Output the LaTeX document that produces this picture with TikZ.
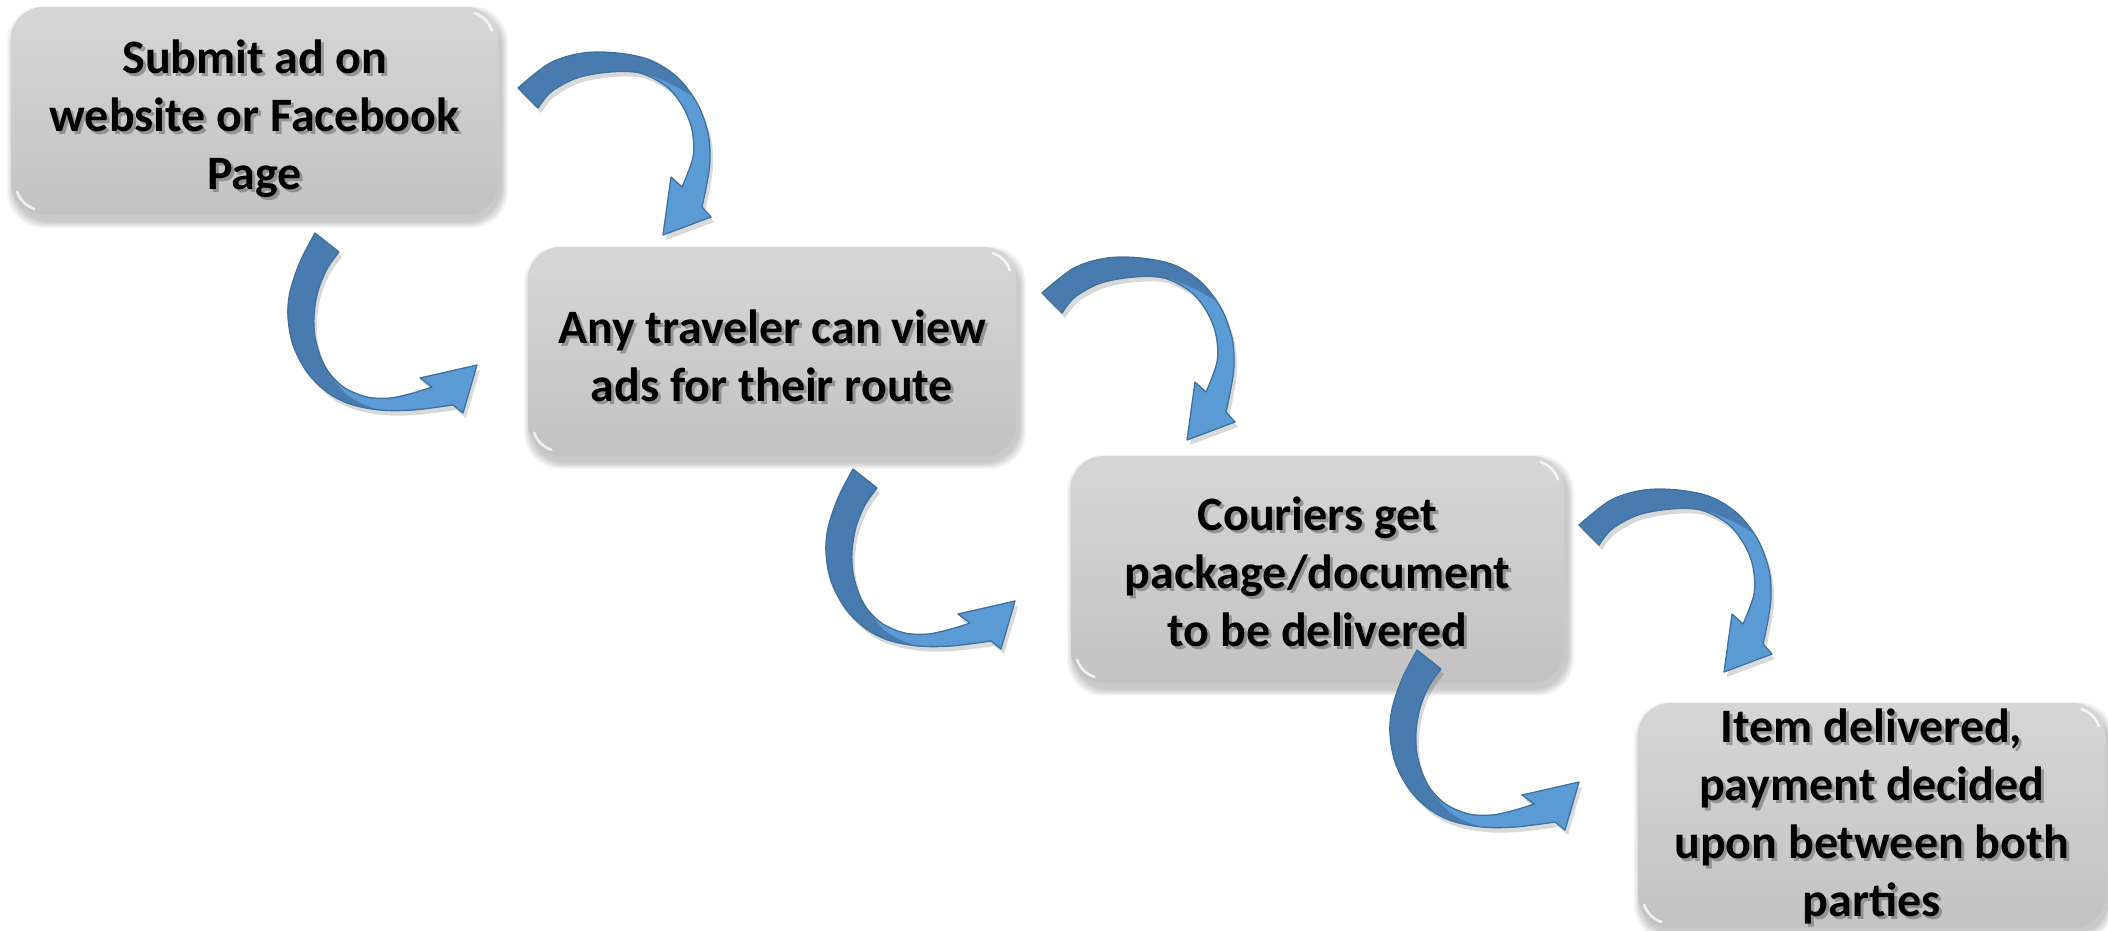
\documentclass[tikz,border=0pt]{standalone}
\usepackage{fontspec}
\setmainfont{Carlito}
\usetikzlibrary{calc}
\definecolor{arrdark}{HTML}{487CB0}
\definecolor{arrlight}{HTML}{5B9BD5}
\definecolor{arredge}{HTML}{41719C}
\definecolor{boxtop}{HTML}{D6D6D6}
\definecolor{boxbot}{HTML}{C3C3C3}
\newcommand\myboxshadow[4]{%
  \foreach \k in {1,...,7}{%
    \fill[black,opacity=0.03,rounded corners=36pt] (#1+3-\k,#2+6-\k) rectangle (#3+3+\k,#4+6+\k);}}
\newcommand\myglints[1]{%
  \draw[glint] ($(#1.north east)+(-32,32)$) ++(-18:27) arc[start angle=-18, end angle=-72, radius=27];
  \draw[glint] ($(#1.south west)+(32,-32)$) ++(-198:27) arc[start angle=-198, end angle=-252, radius=27];}
\tikzset{
  boxnode/.style={rectangle, rounded corners=32pt, top color=boxtop, bottom color=boxbot, draw=none, inner sep=0pt},
  glint/.style={white, opacity=.75, line width=2.5pt, line cap=round},
  lbl/.style={font=\bfseries\fontsize{48}{58}\selectfont, align=center, text=black, inner sep=0pt},
  lblshadow/.style={lbl, text=black!60, opacity=.55},
  botarrow/.pic={
    \fill[black,opacity=.15,shift={(3,5)}] plot[smooth,tension=.55] coordinates {(0,0) (-15,29) (-25,59) (-27,84) (-22,112) (-8,139) (12,159) (35,171) (65,177) (98,177) (138,172)} -- (148,180) -- (162,132) -- (105,145) -- plot[smooth,tension=.55] coordinates {(117,154) (98,160) (75,165) (52,164) (30,155) (15,141) (6,125) (0,104) (-1,82) (3,58) (12,36) (24,19)} -- cycle;
    \fill[arrlight] plot[smooth,tension=.55] coordinates {(0,0) (-15,29) (-25,59) (-27,84) (-22,112) (-8,139) (12,159) (35,171) (65,177) (98,177) (138,172)} -- (148,180) -- (162,132) -- (105,145) -- plot[smooth,tension=.55] coordinates {(117,154) (98,160) (75,165) (52,164) (30,155) (15,141) (6,125) (0,104) (-1,82) (3,58) (12,36) (24,19)} -- cycle;
    \fill[arrdark] plot[smooth,tension=.55] coordinates {(0,0) (-15,29) (-25,59) (-27,84) (-22,112) (-8,139) (12,159) (35,171) (65,177)} -- plot[smooth,tension=.55] coordinates {(65,177) (50,172) (31,161) (15,141)} -- plot[smooth,tension=.55] coordinates {(15,141) (6,125) (0,104) (-1,82) (3,58) (12,36) (24,19)} -- cycle;
    \draw[arredge,line width=1.3pt,line join=round] plot[smooth,tension=.55] coordinates {(0,0) (-15,29) (-25,59) (-27,84) (-22,112) (-8,139) (12,159) (35,171) (65,177) (98,177) (138,172)} -- (148,180) -- (162,132) -- (105,145) -- plot[smooth,tension=.55] coordinates {(117,154) (98,160) (75,165) (52,164) (30,155) (15,141) (6,125) (0,104) (-1,82) (3,58) (12,36) (24,19)} -- cycle;
  },
  toparrow/.pic={
    \fill[black,opacity=.15,shift={(3,5)}] plot[smooth,tension=.55] coordinates {(0,0) (32,-25) (65,-35) (99,-35) (132,-28) (159,-11) (179,15) (190,45) (192,72) (189,95) (184,119)} -- (193,129) -- (145,147) -- (153,89) -- plot[smooth,tension=.55] coordinates {(164,99) (175,69) (174,42) (165,19) (149,-1) (122,-15) (92,-16) (59,-10) (33,4) (20,20)} -- cycle;
    \fill[arrlight] plot[smooth,tension=.55] coordinates {(0,0) (32,-25) (65,-35) (99,-35) (132,-28) (159,-11) (179,15) (190,45) (192,72) (189,95) (184,119)} -- (193,129) -- (145,147) -- (153,89) -- plot[smooth,tension=.55] coordinates {(164,99) (175,69) (174,42) (165,19) (149,-1) (122,-15) (92,-16) (59,-10) (33,4) (20,20)} -- cycle;
    \fill[arrdark] plot[smooth,tension=.55] coordinates {(0,0) (32,-25) (65,-35) (99,-35) (132,-28) (159,-11) (174,8)} -- plot[smooth,tension=.55] coordinates {(174,8) (155,-3) (137,-11)} -- plot[smooth,tension=.55] coordinates {(137,-11) (122,-15) (92,-16) (59,-10) (33,4) (20,20)} -- cycle;
    \draw[arredge,line width=1.3pt,line join=round] plot[smooth,tension=.55] coordinates {(0,0) (32,-25) (65,-35) (99,-35) (132,-28) (159,-11) (179,15) (190,45) (192,72) (189,95) (184,119)} -- (193,129) -- (145,147) -- (153,89) -- plot[smooth,tension=.55] coordinates {(164,99) (175,69) (174,42) (165,19) (149,-1) (122,-15) (92,-16) (59,-10) (33,4) (20,20)} -- cycle;
  }
}
\begin{document}
\begin{tikzpicture}[x=1pt,y=-1pt]
\useasboundingbox (0,0) rectangle (2108,930);
\fill[white] (0,0) rectangle (2108,930);
% box shadows
\myboxshadow{11}{7}{498}{215}
\myboxshadow{528}{247}{1016}{456}
\myboxshadow{1071}{456}{1564}{683}
\myboxshadow{1638}{703}{2105}{928}
% boxes
\node[boxnode, minimum width=487pt, minimum height=208pt] (b1) at (254.5,111) {};
\node[boxnode, minimum width=488pt, minimum height=209pt] (b2) at (772,351.5) {};
\node[boxnode, minimum width=493pt, minimum height=227pt] (b3) at (1317.5,569.5) {};
\node[boxnode, minimum width=467pt, minimum height=225pt] (b4) at (1871.5,815.5) {};
\myglints{b1}
\myglints{b2}
\myglints{b3}
\myglints{b4}
% labels
\node[lblshadow] at ($(b1.center)+(3,11)$) {Submit ad on\\website or Facebook\\Page};
\node[lbl] (t1) at ($(b1.center)+(0,8)$) {Submit ad on\\website or Facebook\\Page};
\node[lblshadow] at ($(b2.center)+(3,7)$) {Any traveler can view\\ads for their route};
\node[lbl] (t2) at ($(b2.center)+(0,4)$) {Any traveler can view\\ads for their route};
\node[lblshadow] at ($(b3.center)+(3,5)$) {Couriers get\\package/document\\to be delivered};
\node[lbl] (t3) at ($(b3.center)+(0,2)$) {Couriers get\\package/document\\to be delivered};
\node[lblshadow] at ($(b4.center)+(3,4)$) {Item delivered,\\payment decided\\upon between both\\parties};
\node[lbl] (t4) at ($(b4.center)+(0,1)$) {Item delivered,\\payment decided\\upon between both\\parties};
% curved arrows
\pic at (518,88) {toparrow};
\pic at (315,233) {botarrow};
\pic at (1042,293) {toparrow};
\pic at (853,469) {botarrow};
\pic at (1579,525) {toparrow};
\pic at (1417,650) {botarrow};
\end{tikzpicture}
\end{document}
